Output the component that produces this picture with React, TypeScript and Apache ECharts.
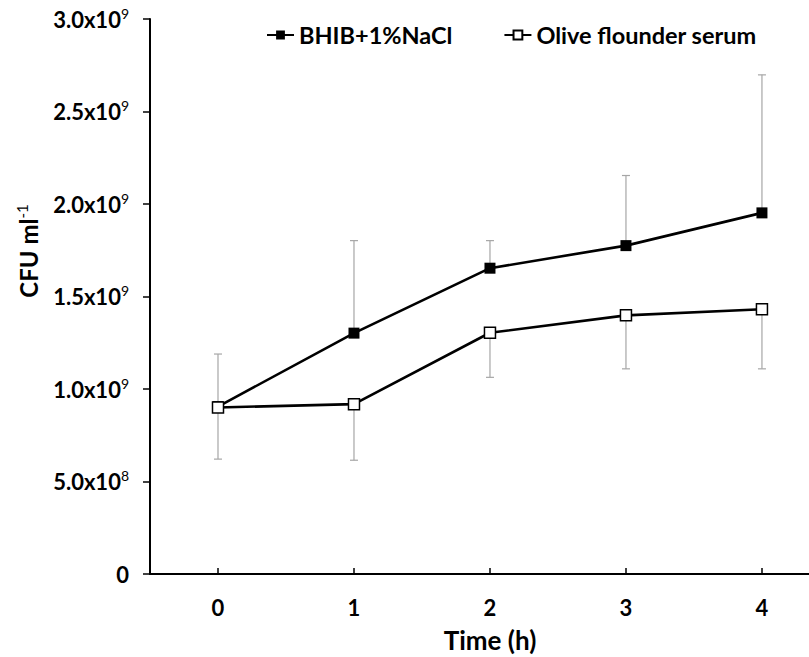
import React, { useEffect, useRef } from "react";
import * as echarts from "echarts";

const categories = ["0", "1", "2", "3", "4"];
const bhibValues = [0.905e9, 1.302e9, 1.653e9, 1.775e9, 1.952e9];
const bhibErrUpper = [1.189e9, 1.802e9, 1.802e9, 2.154e9, 2.698e9];
const oliveValues = [0.9e9, 0.918e9, 1.304e9, 1.398e9, 1.431e9];
const oliveErrLower = [0.621e9, 0.615e9, 1.063e9, 1.109e9, 1.109e9];
const yTickMantissa = ["0", "5.0x10", "1.0x10", "1.5x10", "2.0x10", "2.5x10", "3.0x10"];
const yTickExponent = ["", "8", "9", "9", "9", "9", "9"];

const FONT = "Lato, 'Open Sans', sans-serif";

export default function App() {
  const ref = useRef<HTMLDivElement>(null);
  useEffect(() => {
    if (!ref.current) return;
    const chart = echarts.init(ref.current, undefined, { renderer: "svg" });
    const errRender = (params: any, api: any) => {
      const x = api.value(0);
      const lo = api.coord([x, api.value(1)]);
      const hi = api.coord([x, api.value(2)]);
      const style = { stroke: "#a6a6a6", lineWidth: 1.2 };
      const w = 4;
      return {
        type: "group",
        children: [
          { type: "line", shape: { x1: lo[0], y1: lo[1], x2: hi[0], y2: hi[1] }, style },
          { type: "line", shape: { x1: lo[0] - w, y1: lo[1], x2: lo[0] + w, y2: lo[1] }, style },
          { type: "line", shape: { x1: hi[0] - w, y1: hi[1], x2: hi[0] + w, y2: hi[1] }, style },
        ],
      };
    };
    const xs = categories.map((c) => Number(c));
    chart.setOption({
      animation: false,
      grid: { left: 150, right: 0, top: 19, bottom: 83, containLabel: false },
      legend: {
        data: ["BHIB+1%NaCl", "Olive flounder serum"],
        top: 18,
        left: 261,
        itemWidth: 27,
        itemHeight: 11,
        itemGap: 51,
        textStyle: { fontSize: 23.5, fontWeight: "bold", fontFamily: FONT, color: "#000" },
      },
      xAxis: {
        type: "value",
        min: -0.5,
        max: 4.346,
        axisLine: { show: true, onZero: false, lineStyle: { color: "#000", width: 2 } },
        axisTick: { show: true, customValues: xs, inside: true, length: 6, lineStyle: { color: "#000", width: 1.5 } },
        axisLabel: {
          show: true,
          customValues: xs,
          margin: 22,
          fontSize: 22,
          fontWeight: "bold",
          fontFamily: FONT,
          color: "#000",
          formatter: (v: number) => categories[Math.round(v)] ?? "",
        },
        splitLine: { show: false },
      },
      yAxis: {
        type: "value",
        min: 0,
        max: 3e9,
        interval: 5e8,
        axisLine: { show: true, onZero: false, lineStyle: { color: "#000", width: 2 } },
        axisTick: { show: true, length: 7, lineStyle: { color: "#000", width: 1.5 } },
        splitLine: { show: false },
        axisLabel: {
          margin: 21,
          formatter: (v: number) => {
            const i = Math.round(v / 5e8);
            return yTickExponent[i]
              ? `{m|${yTickMantissa[i]}}{s|${yTickExponent[i]}}`
              : `{m|${yTickMantissa[i]}}`;
          },
          rich: {
            m: { fontSize: 22, fontWeight: "bold", fontFamily: FONT, color: "#000", lineHeight: 26 },
            s: { fontSize: 14, fontFamily: FONT, color: "#000", verticalAlign: "top", lineHeight: 16 },
          },
        },
      },
      graphic: [
        {
          type: "text",
          x: 28,
          y: 251,
          rotation: Math.PI / 2,
          style: {
            text: "{a|CFU ml}{b|-1}",
            align: "center",
            verticalAlign: "middle",
            rich: {
              a: { fontSize: 24, fontWeight: "bold", fontFamily: FONT, fill: "#000", lineHeight: 28 },
              b: { fontSize: 15, fontFamily: FONT, fill: "#000", verticalAlign: "top", lineHeight: 17 },
            },
          },
        },
        {
          type: "text",
          x: 490,
          y: 640,
          style: {
            text: "Time (h)",
            align: "center",
            verticalAlign: "middle",
            fontSize: 26,
            fontWeight: "bold",
            fontFamily: FONT,
            fill: "#000",
          },
        },
      ],
      series: [
        {
          name: "BHIB+1%NaCl err",
          type: "custom",
          renderItem: errRender,
          data: xs.map((x, i) => [x, bhibValues[i], bhibErrUpper[i]]),
          z: 1,
          silent: true,
        },
        {
          name: "Olive err",
          type: "custom",
          renderItem: errRender,
          data: xs.map((x, i) => [x, oliveErrLower[i], oliveValues[i]]),
          z: 1,
          silent: true,
        },
        {
          name: "BHIB+1%NaCl",
          type: "line",
          data: xs.map((x, i) => [x, bhibValues[i]]),
          symbol: "rect",
          symbolSize: 11,
          lineStyle: { color: "#000", width: 2.6 },
          itemStyle: { color: "#000" },
          z: 3,
        },
        {
          name: "Olive flounder serum",
          type: "line",
          data: xs.map((x, i) => [x, oliveValues[i]]),
          symbol: "rect",
          symbolSize: 11,
          lineStyle: { color: "#000", width: 2.6 },
          itemStyle: { color: "#fff", borderColor: "#000", borderWidth: 1.5 },
          z: 3,
        },
      ],
    });
    return () => chart.dispose();
  }, []);
  return <div ref={ref} style={{ width: 809, height: 657, position: "absolute", left: 0, top: 0 }} />;
}
